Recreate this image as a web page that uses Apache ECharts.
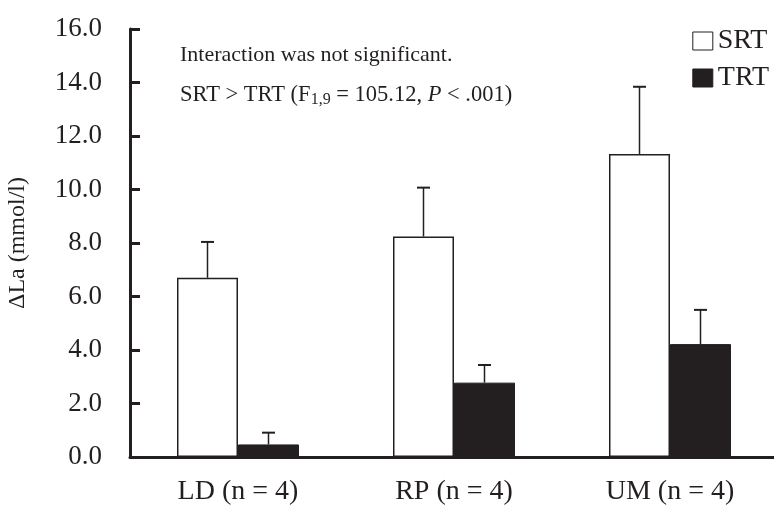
<!DOCTYPE html>
<html>
<head>
<meta charset="utf-8">
<script src="https://cdn.jsdelivr.net/npm/echarts@6/dist/echarts.min.js"></script>
<style>
  html, body { margin: 0; padding: 0; background: #fff; }
  #chartLa { width: 774px; height: 509px; }
</style>
</head>
<body>
<div id="chartLa"></div>
<script>
  'use strict'

  /*-----data-----*/
  var categories = ['LD (n = 4)', 'RP (n = 4)', 'UM (n = 4)'];
  var srtValues = [6.70, 8.24, 11.33];
  var srtErrors = [1.34, 1.83, 2.51];
  var trtValues = [0.47, 2.78, 4.22];
  var trtErrors = [0.44, 0.66, 1.28];
  var yMin = 0, yMax = 16, yStep = 2;

  var ink = '#231f20';
  var serif = '"Liberation Serif", "Times New Roman", serif';
  var barWidth = 61;

  /*-----error bars (upper only)-----*/
  function errorSeries(values, errors, side) {
    return {
      type: 'custom',
      silent: true,
      z: 5,
      encode: { x: 0, y: [1, 2] },
      data: values.map(function (v, i) { return [i, v, v + errors[i]]; }),
      renderItem: function (params, api) {
        var base = api.coord([api.value(0), api.value(1)]);
        var top = api.coord([api.value(0), api.value(2)]);
        var x = base[0] + side * barWidth / 2;
        return {
          type: 'group',
          children: [
            { type: 'line', shape: { x1: x, y1: base[1], x2: x, y2: top[1] },
              style: { stroke: ink, lineWidth: 1.5 } },
            { type: 'line', shape: { x1: x - 6.5, y1: top[1], x2: x + 6.5, y2: top[1] },
              style: { stroke: ink, lineWidth: 2 } }
          ]
        };
      }
    };
  }

  var option = {
    animation: false,
    textStyle: { fontFamily: serif, color: ink },
    grid: { left: 130, top: 29, bottom: 52, width: 648, outerBoundsMode: 'none', containLabel: false },
    legend: {
      data: ['SRT', 'TRT'],
      orient: 'vertical',
      right: 0,
      top: 22,
      icon: 'rect',
      itemWidth: 20,
      itemHeight: 18,
      itemGap: 9,
      itemStyle: { borderWidth: 1 },
      textStyle: { fontFamily: serif, fontSize: 28, color: ink }
    },
    xAxis: {
      type: 'category',
      data: categories,
      axisLine: { lineStyle: { color: ink, width: 3 } },
      axisTick: { inside: true, length: 9, lineStyle: { color: ink, width: 3 } },
      axisLabel: { fontFamily: serif, fontSize: 28, color: ink, margin: 21 }
    },
    yAxis: {
      type: 'value',
      min: yMin,
      max: yMax,
      interval: yStep,
      name: 'ΔLa (mmol/l)',
      nameLocation: 'middle',
      nameGap: 100,
      nameTextStyle: { fontFamily: serif, fontSize: 24, color: ink },
      splitLine: { show: false },
      axisLine: { show: true, lineStyle: { color: ink, width: 3 } },
      axisTick: { show: true, inside: true, length: 10, lineStyle: { color: ink, width: 3 } },
      axisLabel: {
        fontFamily: serif, fontSize: 27, color: ink, margin: 28,
        formatter: function (v) { return v.toFixed(1); }
      }
    },
    graphic: [
      {
        type: 'text', left: 180, top: 44,
        style: { text: 'Interaction was not significant.', font: '22px ' + serif, fill: ink }
      },
      {
        type: 'text', left: 180, top: 82,
        style: {
          text: 'SRT > TRT (F{sub|1,9} = 105.12, {it|P} < .001)',
          fill: ink,
          fontFamily: serif,
          fontSize: 22.5,
          lineHeight: 26,
          rich: {
            sub: { fontFamily: serif, fontSize: 16, lineHeight: 12, verticalAlign: 'bottom', fill: ink },
            it: { fontFamily: serif, fontSize: 22.5, fontStyle: 'italic', lineHeight: 26, fill: ink }
          }
        }
      }
    ],
    series: [
      {
        name: 'SRT',
        type: 'bar',
        data: srtValues,
        barWidth: barWidth,
        barGap: '0%',
        itemStyle: { color: '#ffffff', borderColor: ink, borderWidth: 1.5 }
      },
      {
        name: 'TRT',
        type: 'bar',
        data: trtValues,
        barWidth: barWidth,
        barGap: '0%',
        itemStyle: { color: ink, borderColor: ink, borderWidth: 1 }
      },
      errorSeries(srtValues, srtErrors, -1),
      errorSeries(trtValues, trtErrors, 1)
    ]
  };

  var chartLa = echarts.init(document.getElementById('chartLa'));
  chartLa.setOption(option);
</script>
</body>
</html>
